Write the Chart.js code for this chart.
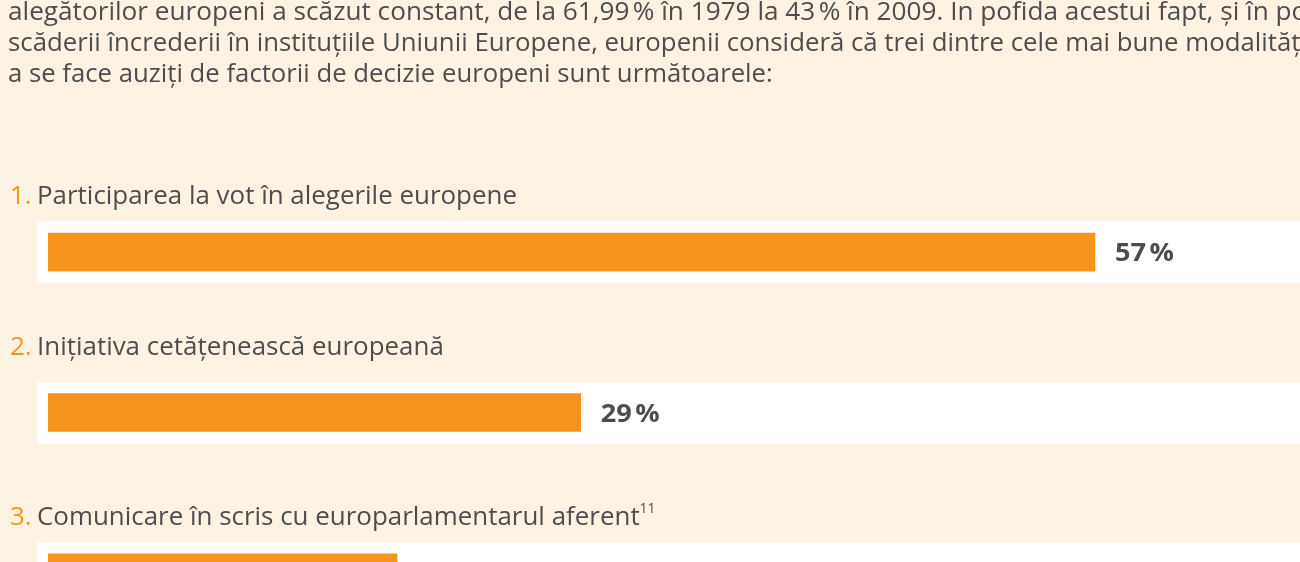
<!DOCTYPE html>
<html lang="ro">
<head>
<meta charset="utf-8">
<script src="https://cdn.jsdelivr.net/npm/chart.js@4.4.1/dist/chart.umd.min.js"></script>
<style>
  html, body { margin: 0; padding: 0; background: #fef3e2; overflow: hidden; }
  #wrap { width: 1300px; height: 562px; overflow: hidden; position: relative; }
</style>
</head>
<body>
<div id="wrap"><canvas id="chart" width="1300" height="700"></canvas></div>
<script>
// intro paragraph (cut at the top and right like the page scan)
var introLines = [
  'alegătorilor europeni a scăzut constant, de la 61,99\u202f% în 1979 la 43\u202f% în 2009. În pofida acestui fapt, şi în pofida',
  'scăderii încrederii în instituţiile Uniunii Europene, europenii consideră că trei dintre cele mai bune modalităţi',
  'a se face auziţi de factorii de decizie europeni sunt următoarele:'
];
var categories = [
  'Participarea la vot în alegerile europene',
  'Iniţiativa cetăţenească europeană',
  'Comunicare în scris cu europarlamentarul aferent'
];
var footnotes = ['', '', '11'];
var values = [57, 29, 19];

var orange = '#f7941e';
var grey = '#4d4d4f';
var font = '"Open Sans", "Noto Sans", sans-serif';
// distance from bar centre up to the title baseline, per row
var titleGap = [48, 58, 48];
// small per-line width correction for the paragraph
var lineStretch = [1.0, 0.985, 0.982];

function fitScale(ctx, text, width) {
  return width / ctx.measureText(text).width;
}

function drawScaled(ctx, text, x, y, sx) {
  ctx.save();
  ctx.translate(x, y);
  ctx.scale(sx, 1);
  ctx.fillText(text, 0, 0);
  ctx.restore();
  return ctx.measureText(text).width * sx;
}

var decor = {
  id: 'decor',
  beforeDatasetsDraw: function(chart) {
    var ctx = chart.ctx;
    var ys = chart.scales.y;
    ctx.save();
    ctx.fillStyle = '#ffffff';
    categories.forEach(function(c, i) {
      var cy = ys.getPixelForValue(i);
      ctx.fillRect(37, Math.round(cy - 31), chart.width - 37, 62);
    });
    ctx.restore();
  },
  afterDatasetsDraw: function(chart) {
    var ctx = chart.ctx;
    var ys = chart.scales.y;
    var xs = chart.scales.x;
    ctx.save();
    ctx.textBaseline = 'alphabetic';

    // paragraph
    ctx.font = '25px ' + font;
    ctx.fillStyle = grey;
    var sp = fitScale(ctx, introLines[2], 765) * 1.018;
    introLines.forEach(function(t, i) {
      drawScaled(ctx, t, 8, 20 + i * 31, sp * lineStretch[i]);
    });

    // row titles
    ctx.font = '26px ' + font;
    var st = fitScale(ctx, categories[0], 480);
    categories.forEach(function(t, i) {
      var cy = ys.getPixelForValue(i);
      var base = cy - titleGap[i];
      ctx.fillStyle = orange;
      drawScaled(ctx, (i + 1) + '.', 10, base, st);
      ctx.fillStyle = grey;
      var w = drawScaled(ctx, t, 37, base, st);
      if (footnotes[i]) {
        ctx.font = '14px ' + font;
        drawScaled(ctx, footnotes[i], 37 + w, base - 12, st);
        ctx.font = '26px ' + font;
      }
    });

    // value labels
    ctx.font = 'bold 25px ' + font;
    ctx.fillStyle = grey;
    var sv = fitScale(ctx, '57\u202f%', 59);
    values.forEach(function(v, i) {
      var cy = ys.getPixelForValue(i);
      drawScaled(ctx, v + '\u202f%', xs.getPixelForValue(v) + 20, cy + 9, sv);
    });
    ctx.restore();
  }
};

new Chart(document.getElementById('chart'), {
  type: 'bar',
  data: {
    labels: categories,
    datasets: [{
      data: values,
      backgroundColor: orange,
      borderWidth: 0,
      barThickness: 38
    }]
  },
  options: {
    indexAxis: 'y',
    responsive: false,
    animation: false,
    layout: { padding: { left: 48, right: 3, top: 172, bottom: 47 } },
    scales: {
      x: { min: 0, max: 68, display: false },
      y: { display: false, offset: true }
    },
    plugins: {
      legend: { display: false },
      tooltip: { enabled: false }
    }
  },
  plugins: [decor]
});
</script>
</body>
</html>
